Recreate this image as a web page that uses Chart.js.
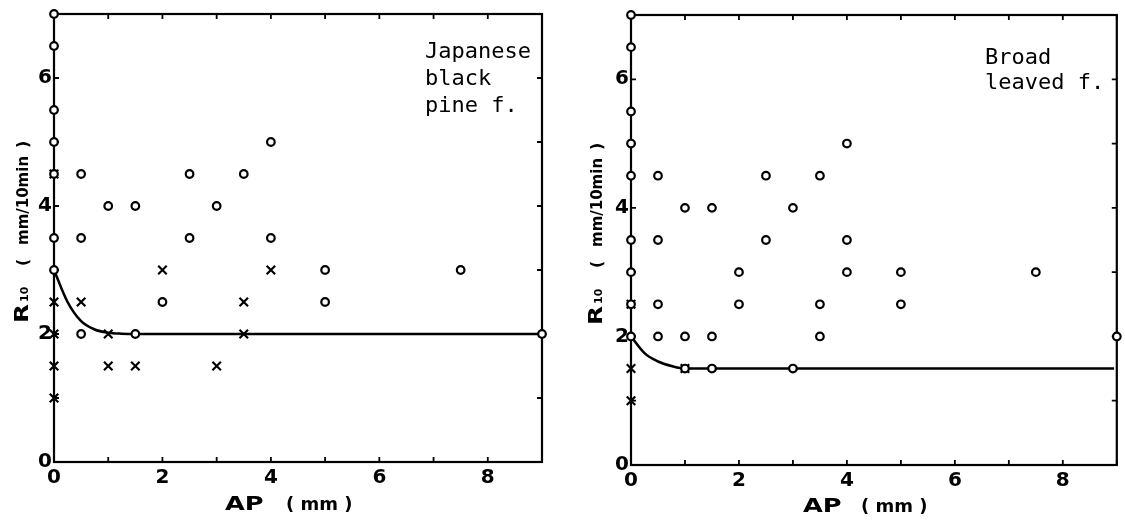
<!DOCTYPE html>
<html><head><meta charset="utf-8">
<script src="https://cdn.jsdelivr.net/npm/chart.js@4.4.1/dist/chart.umd.min.js"></script>
<style>
html,body{margin:0;padding:0;background:#fff;}
#wrap{position:relative;width:1125px;height:525px;overflow:hidden;}
.box{position:absolute;top:0;height:525px;}
canvas{display:block;}
</style></head><body>
<div id="wrap">
<div class="box" style="left:0;width:562px"><canvas id="c1" width="562" height="525"></canvas></div>
<div class="box" style="left:562px;width:563px"><canvas id="c2" width="563" height="525"></canvas></div>
</div>
<script>
// ---- axis ranges / ticks ----
const xTickValues = [0,1,2,3,4,5,6,7,8,9];
const yTickValues = [0,1,2,3,4,5,6,7];
const xLabelled = [0,2,4,6,8];
const yLabelled = [0,2,4,6];

// ---- Japanese black pine forest ----
const pineCircleX = [0,0,0,0,0,0,0,0.5,0.5,0.5,1,1.5,1.5,2,2.5,2.5,3,3.5,4,4,5,5,7.5,9];
const pineCircleY = [7,6.5,5.5,5,4.5,3.5,3,4.5,3.5,2,4,4,2,2.5,4.5,3.5,4,4.5,5,3.5,3,2.5,3,2];
const pineCrossX  = [0,0,0,0,0,0.5,1,1,1.5,2,3,3.5,3.5,4];
const pineCrossY  = [4.5,2.5,2,1.5,1,2.5,2,1.5,1.5,3,1.5,2.5,2,3];
const pineFitX    = [0,0.25,0.5,0.75,1,1.25,1.5,9];
const pineFitY    = [3,2.5,2.2,2.07,2.02,2.005,2,2];

// ---- Broad leaved forest ----
const broadCircleX = [0,0,0,0,0,0,0,0,0,0.5,0.5,0.5,0.5,1,1,1,1.5,1.5,1.5,2,2,2.5,2.5,3,3,3.5,3.5,3.5,4,4,4,5,5,7.5,9];
const broadCircleY = [7,6.5,5.5,5,4.5,3.5,3,2.5,2,4.5,3.5,2.5,2,4,2,1.5,4,2,1.5,3,2.5,4.5,3.5,4,1.5,4.5,2.5,2,5,3.5,3,3,2.5,3,2];
const broadCrossX  = [0,0,0,1];
const broadCrossY  = [2.5,1.5,1,1.5];
const broadFitX    = [0,0.25,0.5,0.75,1,1.5,8.95];
const broadFitY    = [2,1.74,1.61,1.54,1.5,1.5,1.5];

const pineLabel  = ['Japanese','black','pine f.'];
const broadLabel = ['Broad','leaved f.'];

function zip(xs, ys){ return xs.map((x,i)=>({x:x,y:ys[i]})); }

const BOLD = '"DejaVu Sans", "Liberation Sans", sans-serif';

function decorPlugin(cfg){
  return {
    id:'decor',
    beforeDatasetsDraw(chart){
      const ctx = chart.ctx, a = chart.chartArea;
      const xs = chart.scales.x, ys = chart.scales.y;
      ctx.save();
      ctx.strokeStyle = '#000';
      ctx.lineWidth = 2.2;
      ctx.strokeRect(a.left, a.top, a.right - a.left, a.bottom - a.top);
      ctx.lineWidth = 1.8;
      const tl = 5;
      ctx.beginPath();
      xTickValues.forEach(v=>{
        const px = xs.getPixelForValue(v);
        ctx.moveTo(px, a.bottom); ctx.lineTo(px, a.bottom - tl);
        ctx.moveTo(px, a.top); ctx.lineTo(px, a.top + tl);
      });
      yTickValues.forEach(v=>{
        const py = ys.getPixelForValue(v);
        ctx.moveTo(a.left, py); ctx.lineTo(a.left + tl, py);
        ctx.moveTo(a.right, py); ctx.lineTo(a.right - tl, py);
      });
      ctx.stroke();
      ctx.restore();
    },
    afterDraw(chart){
      const ctx = chart.ctx, a = chart.chartArea;
      ctx.save();
      ctx.fillStyle = '#000';
      ctx.textAlign = 'left';
      ctx.textBaseline = 'alphabetic';
      // x axis title
      const bx = a.left + cfg.apOffset, by = cfg.apBase;
      ctx.save();
      ctx.translate(bx, by);
      ctx.scale(1.35, 1);
      ctx.font = 'bold 19px ' + BOLD;
      ctx.fillText('AP', 0, 0);
      ctx.restore();
      ctx.font = 'bold 18px ' + BOLD;
      ctx.fillText('( mm )', a.left + cfg.mmOffset, by);
      // y axis title (rotated)
      ctx.save();
      ctx.translate(cfg.rBaseX, cfg.rStartY);
      ctx.rotate(-Math.PI/2);
      ctx.save();
      ctx.scale(1.3, 1);
      ctx.font = 'bold 19px ' + BOLD;
      ctx.fillText('R', 0, 0);
      ctx.restore();
      ctx.font = 'bold 11px ' + BOLD;
      ctx.fillText('10', 21, 0);
      ctx.font = 'bold 16px ' + BOLD;
      ctx.fillText('(', 57, 0);
      ctx.font = 'bold 15px ' + BOLD;
      ctx.fillText('mm/10min', 78, 0);
      ctx.font = 'bold 16px ' + BOLD;
      ctx.fillText(')', 175, 0);
      ctx.restore();
      // forest label
      ctx.font = '22px "DejaVu Sans Mono", "Liberation Mono", monospace';
      cfg.label.forEach((t,i)=>{
        ctx.fillText(t, cfg.labX, cfg.labY + i*cfg.labStep);
      });
      ctx.restore();
    }
  };
}

function makeChart(id, cfg){
  return new Chart(document.getElementById(id), {
    type:'scatter',
    data:{ datasets:[
      { label:'open circle', data: zip(cfg.cX, cfg.cY), pointStyle:'circle', pointRadius:3.8, pointBorderWidth:2.2,
        borderColor:'#000', backgroundColor:'#fff', pointBackgroundColor:'#fff', clip:false },
      { label:'cross', data: zip(cfg.xX, cfg.xY), pointStyle:'crossRot', pointRadius:6, pointBorderWidth:2.2,
        borderColor:'#000', backgroundColor:'#000', clip:false },
      { label:'fit', type:'line', data: zip(cfg.fX, cfg.fY), borderColor:'#000', borderWidth:2.6, pointRadius:0,
        cubicInterpolationMode:'monotone', fill:false, clip:false, showLine:true }
    ]},
    options:{
      responsive:false, animation:false,
      layout:{ padding:{ left:0, right:cfg.padR, top:cfg.padT, bottom:0 } },
      plugins:{ legend:{display:false}, tooltip:{enabled:false}, title:{display:false} },
      events:[],
      scales:{
        x:{ type:'linear', min:0, max:9,
            afterFit:s=>{ s.height = cfg.xH; },
            afterBuildTicks:s=>{ s.ticks = xTickValues.map(v=>({value:v})); },
            grid:{display:false, drawTicks:false}, border:{display:false},
            ticks:{ autoSkip:false, maxRotation:0, padding:cfg.xPad, color:'#000',
                    font:{family:BOLD, weight:'bold', size:20},
                    callback:v=> xLabelled.includes(v) ? String(v) : '' } },
        y:{ type:'linear', min:0, max:7,
            afterFit:s=>{ s.width = cfg.yW; },
            afterBuildTicks:s=>{ s.ticks = yTickValues.map(v=>({value:v})); },
            grid:{display:false, drawTicks:false}, border:{display:false},
            ticks:{ autoSkip:false, padding:2, color:'#000',
                    font:{family:BOLD, weight:'bold', size:20},
                    callback:v=> yLabelled.includes(v) ? String(v) : '' } }
      }
    },
    plugins:[decorPlugin(cfg)]
  });
}

makeChart('c1', { cX:pineCircleX, cY:pineCircleY, xX:pineCrossX, xY:pineCrossY, fX:pineFitX, fY:pineFitY,
  padR:20, padT:14, xH:63, yW:54, xPad:4,
  apOffset:171, mmOffset:232, apBase:510,
  rBaseX:28, rStartY:323,
  label:pineLabel, labX:425, labY:58, labStep:27 });

makeChart('c2', { cX:broadCircleX, cY:broadCircleY, xX:broadCrossX, xY:broadCrossY, fX:broadFitX, fY:broadFitY,
  padR:5, padT:15, xH:60, yW:69, xPad:4,
  apOffset:172, mmOffset:230, apBase:512,
  rBaseX:40, rStartY:325,
  label:broadLabel, labX:423, labY:64, labStep:25 });
</script>
</body></html>
